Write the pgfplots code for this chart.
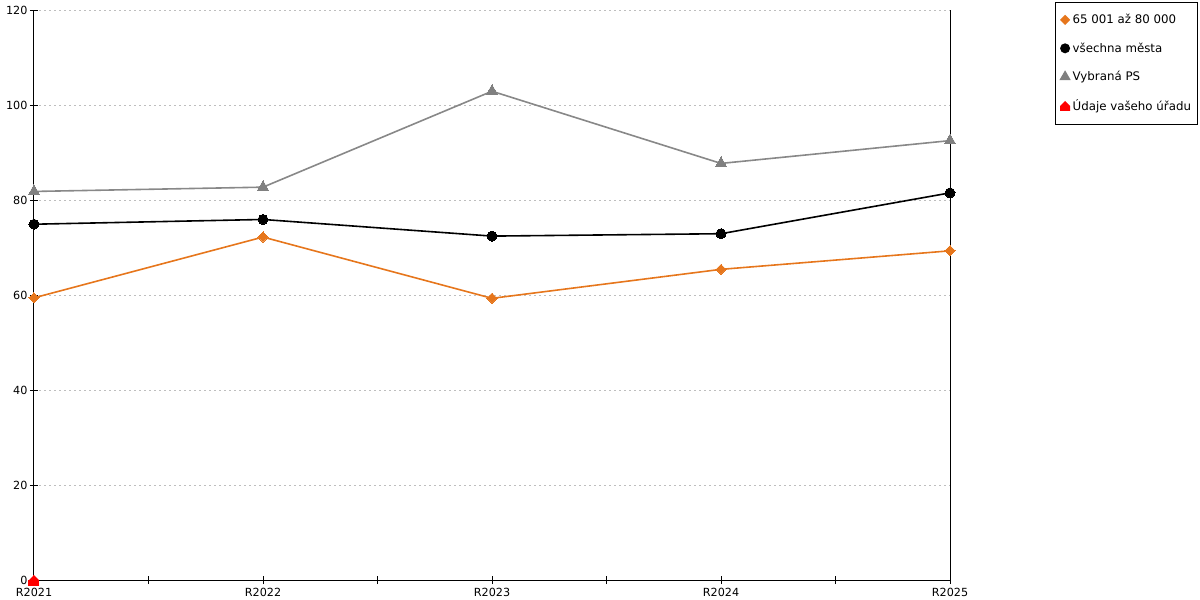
\documentclass[border=0pt]{standalone}
\usepackage{fontspec}
\setmainfont{DejaVu Sans}
\usepackage{pgfplots}
\pgfplotsset{compat=1.18}
\definecolor{cOrange}{RGB}{230,118,28}
\definecolor{cGrey}{RGB}{136,136,136}
\definecolor{cGreyMark}{RGB}{128,128,128}
\definecolor{cGrid}{RGB}{190,190,190}
\pgfdeclareplotmark{house*}{%
  \pgfpathmoveto{\pgfqpoint{-\pgfplotmarksize}{-\pgfplotmarksize}}%
  \pgfpathlineto{\pgfqpoint{\pgfplotmarksize}{-\pgfplotmarksize}}%
  \pgfpathlineto{\pgfqpoint{\pgfplotmarksize}{0pt}}%
  \pgfpathlineto{\pgfqpoint{0pt}{\pgfplotmarksize}}%
  \pgfpathlineto{\pgfqpoint{-\pgfplotmarksize}{0pt}}%
  \pgfpathclose
  \pgfusepathqfillstroke}
\begin{document}
\begin{tikzpicture}[x=1pt,y=1pt]
\useasboundingbox (0,0) rectangle (1200,600);
\begin{axis}[
  at={(34pt,20pt)}, anchor=south west,
  scale only axis, width=916pt, height=570pt,
  xmin=0, xmax=4, ymin=0, ymax=120,
  axis x line*=bottom, axis y line*=left,
  axis line style={black, line width=1pt},
  xtick={0,1,2,3,4},
  xticklabels={R2021,R2022,R2023,R2024,R2025},
  minor xtick={0.5,1.5,2.5,3.5},
  ytick={0,20,40,60,80,100,120},
  major tick length=8pt, minor tick length=8pt,
  every tick/.style={black, line width=0.8pt},
  tick align=center,
  x tick label style={yshift=-1pt},
  y tick label style={xshift=1pt},
  ymajorgrids,
  grid style={cGrid, dash pattern=on 2pt off 3pt, line width=0.8pt},
  ticklabel style={font=\fontsize{11.2}{13}\selectfont},
  /pgf/number format/assume math mode=true,
  legend style={at={(1.1147,1.0140)}, anchor=north west, draw=black, line width=0.8pt,
    font=\fontsize{11.8}{13}\selectfont, row sep=13.5pt, inner xsep=4pt, inner ysep=10pt,
    /tikz/every even column/.append style={column sep=3pt}},
  legend cell align=left,
  legend image code/.code={\draw[#1,line width=0pt, draw opacity=0] plot coordinates {(0.5em,0cm)};},
  clip=false,
]
\addplot[cOrange, line width=1.6pt, mark=square*, mark size=3.6pt, mark options={rotate=45, fill=cOrange, draw=cOrange, line width=0pt}]
  coordinates {(0,59.4) (1,72.2) (2,59.3) (3,65.4) (4,69.3)};
\addlegendentry{65 001 až 80 000}
\addplot[black, line width=1.6pt, mark=*, mark size=5pt, mark options={fill=black, draw=black, line width=0pt}]
  coordinates {(0,74.9) (1,75.9) (2,72.4) (3,72.9) (4,81.5)};
\addlegendentry{všechna města}
\addplot[cGrey, line width=1.6pt, mark=triangle*, mark size=6.5pt, mark options={fill=cGreyMark, draw=cGreyMark, line width=0pt}]
  coordinates {(0,81.8) (1,82.7) (2,102.9) (3,87.7) (4,92.5)};
\addlegendentry{Vybraná PS}
\addplot[red, line width=1.6pt, mark=house*, mark size=5pt, mark options={fill=red, draw=red, line width=0pt}]
  coordinates {(0,0)};
\addlegendentry{Údaje vašeho úřadu}
\draw[black, line width=1pt] (rel axis cs:1,0) -- (rel axis cs:1,1);
\end{axis}
\end{tikzpicture}
\end{document}
